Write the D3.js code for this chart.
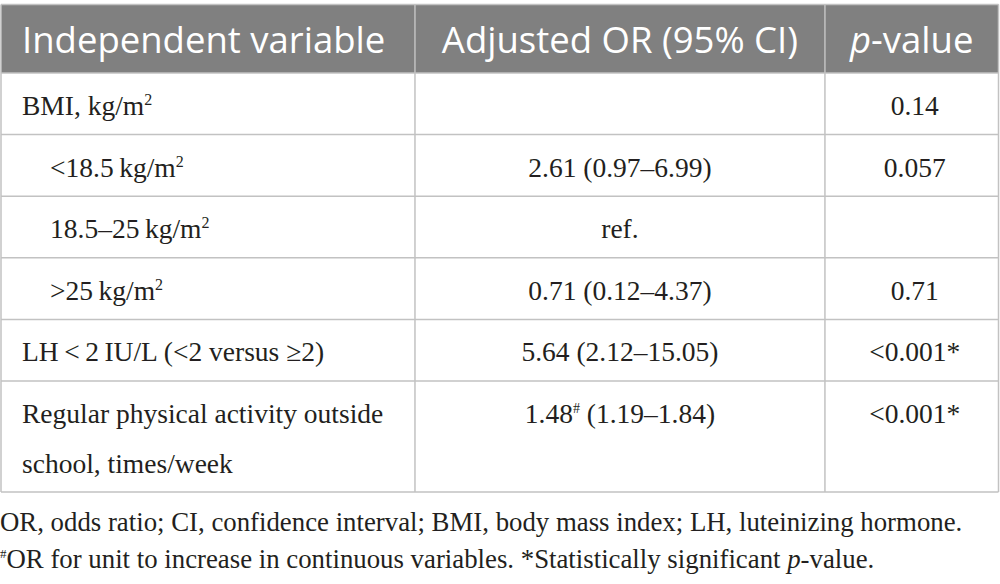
<!DOCTYPE html>
<html>
<head>
<meta charset="utf-8">
<script src="https://cdn.jsdelivr.net/npm/d3@7"></script>
<style>
  body { margin: 0; background: #fff; }
  .head { font-family: "Open Sans", sans-serif; fill: #fff; }
  .cell { font-family: "Liberation Serif", "Times New Roman", serif; fill: #231f20; }
</style>
</head>
<body>
<svg id="tbl"></svg>
<script>
// table content
const headers = ["Independent variable", "Adjusted OR (95% CI)", "p-value"];
const variables = [
  [{t: "BMI, kg/m"}, {t: "2", sup: true}],
  [{t: "<18.5\u2009kg/m"}, {t: "2", sup: true}],
  [{t: "18.5\u201325\u2009kg/m"}, {t: "2", sup: true}],
  [{t: ">25\u2009kg/m"}, {t: "2", sup: true}],
  [{t: "LH\u2009<\u20092\u2009IU/L (<2 versus \u22652)"}],
  [{t: "Regular physical activity outside"}, {t: "school, times/week", br: true}]
];
const levels = [0, 1, 1, 1, 0, 0];
const oddsRatios = [
  [],
  [{t: "2.61 (0.97\u20136.99)"}],
  [{t: "ref."}],
  [{t: "0.71 (0.12\u20134.37)"}],
  [{t: "5.64 (2.12\u201315.05)"}],
  [{t: "1.48"}, {t: "#", sup: true}, {t: " (1.19\u20131.84)"}]
];
const pValues = ["0.14", "0.057", "", "0.71", "<0.001*", "<0.001*"];
const rowSpans = [1, 1, 1, 1, 1, 1.8];
const footnotes = [
  [{t: "OR, odds ratio; CI, confidence interval; BMI, body mass index; LH, luteinizing hormone."}],
  [{t: "#", sup: true}, {t: "OR for unit to increase in continuous variables. *Statistically significant "}, {t: "p", it: true}, {t: "-value."}]
];

const W = 1000, H = 584;
const svg = d3.select("#tbl").attr("width", W).attr("height", H);

// column positions
const colEdges = [0, 0.415, 0.826, 1];
const x = d3.scaleLinear().domain([0, 1]).range([1, 998.5]);

// row positions in row units
const cum = [0];
rowSpans.forEach(s => cum.push(cum[cum.length - 1] + s));
const y = d3.scaleLinear().domain([0, cum[cum.length - 1]]).range([73, 492]);
const headTop = 4.5;

const lineCol = "#c2c2c2";

// header band
svg.append("rect")
  .attr("x", x(0)).attr("y", headTop)
  .attr("width", x(1) - x(0)).attr("height", y(0) - headTop)
  .attr("fill", "#808080");

// grid: horizontal lines
svg.selectAll(".hline")
  .data(cum)
  .join("line")
  .attr("class", "hline")
  .attr("x1", x(0)).attr("x2", x(1))
  .attr("y1", d => y(d)).attr("y2", d => y(d))
  .attr("stroke", lineCol).attr("stroke-width", 1.5);

svg.append("line")
  .attr("x1", x(0)).attr("x2", x(1))
  .attr("y1", headTop).attr("y2", headTop)
  .attr("stroke", lineCol).attr("stroke-width", 1.5);

// grid: vertical lines
svg.selectAll(".vline")
  .data(colEdges)
  .join("line")
  .attr("class", "vline")
  .attr("x1", d => x(d)).attr("x2", d => x(d))
  .attr("y1", headTop).attr("y2", y(cum[cum.length - 1]))
  .attr("stroke", lineCol).attr("stroke-width", 1.5);

// header text
const headAnchor = ["start", "middle", "middle"];
const headX = [x(0) + 21, (x(colEdges[1]) + x(colEdges[2])) / 2, (x(colEdges[2]) + x(colEdges[3])) / 2];
headers.forEach((h, i) => {
  const t = svg.append("text").attr("class", "head")
    .attr("x", headX[i]).attr("y", 53)
    .attr("text-anchor", headAnchor[i])
    .style("font-size", "36.5px");
  if (h.startsWith("p-")) {
    t.append("tspan").style("font-style", "italic").text("p");
    t.append("tspan").text(h.slice(1));
  } else {
    t.text(h);
  }
});

// write a list of runs into a text element; superscripts lift with dy and drop back
function runs(sel, parts, x0, lineGap, supSize, lift) {
  let up = 0;
  parts.forEach(p => {
    const ts = sel.append("tspan").text(p.t);
    if (p.br) { ts.attr("x", x0).attr("dy", lineGap + up); up = 0; }
    else if (p.sup) { ts.attr("dy", -lift).style("font-size", supSize + "px"); up = lift; }
    else if (up) { ts.attr("dy", up); up = 0; }
    if (p.it) ts.style("font-style", "italic");
  });
}

const fs = 27.5;
variables.forEach((v, i) => {
  const base = y(cum[i]) + 42;
  const x0 = x(0) + 21 + levels[i] * 28;
  const t = svg.append("text").attr("class", "cell")
    .attr("x", x0).attr("y", base).style("font-size", fs + "px");
  runs(t, v, x0, 50, 16, 10);

  const t2 = svg.append("text").attr("class", "cell")
    .attr("x", (x(colEdges[1]) + x(colEdges[2])) / 2).attr("y", base)
    .attr("text-anchor", "middle").style("font-size", fs + "px");
  runs(t2, oddsRatios[i], 0, 0, 14, 10);

  svg.append("text").attr("class", "cell")
    .attr("x", (x(colEdges[2]) + x(colEdges[3])) / 2 + 3).attr("y", base)
    .attr("text-anchor", "middle").style("font-size", fs + "px")
    .text(pValues[i]);
});

// footnotes
footnotes.forEach((f, i) => {
  const t = svg.append("text").attr("class", "cell")
    .attr("x", 0).attr("y", 531 + i * 37)
    .style("font-size", "26.8px");
  runs(t, f, 0, 0, 13, 10);
});
</script>
</body>
</html>
